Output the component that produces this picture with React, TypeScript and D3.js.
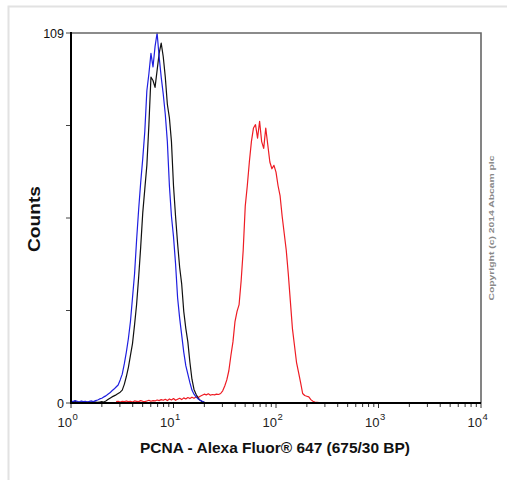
import React, { useEffect, useRef } from 'react';
import * as d3 from 'd3';

// histogram bins, in log10 units of fluorescence
const binStart = 0;
const binStep = 0.02;

// isotype control (black), starts at bin 0
const blackCounts = [
  0.3, 0.2, 0.4, 0.3, 0.2, 0.3, 0.4, 0.2, 0.3, 0.2, 0.3, 0.4, 0.3, 0.2, 0.3, 0.4, 0.3,
  0.6, 1.0, 1.4, 1.8, 2.1, 2.4, 2.8, 3.2, 3.8, 5.5, 7.8, 10.5, 14, 17.5, 23, 29, 37, 46,
  56, 63, 70, 82, 96, 95, 93, 98, 103, 106, 102, 96, 88, 84, 77, 64, 55, 47, 40, 35, 27,
  22, 18, 12, 7, 4, 2.6, 1.5, 0.8, 0.4, 0.2, 0
];

// unlabelled control (blue), starts at bin 0
const blueCounts = [
  0.6, 0.4, 0.7, 0.5, 0.3, 0.6, 0.4, 0.5, 0.3, 0.5, 0.6, 0.4, 0.7, 0.9, 1.2, 1.4, 1.8,
  2.1, 2.6, 3.0, 3.6, 4.1, 4.7, 5.3, 6.8, 8.5, 11.5, 15, 19, 24, 31, 38, 48, 57, 65, 72,
  80, 92, 97, 103, 99, 105, 109, 102, 96, 91, 85, 77, 64, 55, 49, 41, 31, 25, 20, 15, 11,
  8.5, 6, 3.8, 2.6, 1.8, 1.2, 0.8, 0.5, 0.2, 0
];

// PCNA stained (red), starts at bin 22
const redStartBin = 22;
const redCounts = [
  0.4, 0.5, 0.3, 0.5, 0.4, 0.6, 0.4, 0.5, 0.3, 0.6, 0.5, 0.4, 0.7, 0.5, 0.4, 0.6, 0.8,
  0.5, 0.7, 0.6, 0.9, 0.7, 1.0, 0.8, 1.1, 0.7, 1.2, 0.9, 1.3, 0.8, 1.1, 1.4, 1.0, 1.5,
  1.2, 1.6, 1.3, 1.7, 1.4, 1.8, 1.6, 2.0, 2.3, 2.6, 2.4, 2.7, 2.3, 2.5, 2.4, 2.6, 2.5,
  2.8, 3.6, 5.0, 6.8, 9.5, 14, 18, 24, 27, 29, 36, 45, 58, 64, 71, 77, 81, 82, 78, 83,
  77, 75, 81, 76, 71, 69, 70, 68, 64, 61, 55, 50, 45, 38, 30, 22, 17, 12, 9, 6, 2.8,
  2.2, 2.0, 1.8, 1.0, 0.5, 0.3, 0.2, 0.1, 0.1, 0
];

const yMax = 109;
const yTickLabels = ['0', '109'];
const xDecades = [0, 1, 2, 3, 4];
const xTitle = 'PCNA - Alexa Fluor® 647 (675/30 BP)';
const yTitle = 'Counts';
const copyright = 'Copyright (c) 2014 Abcam plc';

export default function App() {
  const ref = useRef<SVGSVGElement>(null);

  useEffect(() => {
    const width = 507;
    const height = 480;
    const plot = { left: 71, right: 481, top: 33, bottom: 403 };
    const font = 'Liberation Sans, Arial, sans-serif';
    const svg = d3.select(ref.current);
    svg.selectAll('*').remove();

    svg.append('rect')
      .attr('width', width).attr('height', height)
      .attr('fill', '#fff');

    // card outline
    svg.append('rect')
      .attr('x', 8.5).attr('y', 6.5)
      .attr('width', 520).attr('height', 500)
      .attr('fill', 'none')
      .attr('stroke', '#e2e2e2')
      .attr('stroke-width', 2);

    const x = d3.scaleLog().domain([1, 1e4]).range([plot.left, plot.right]);
    const y = d3.scaleLinear().domain([0, yMax]).range([plot.bottom, plot.top]);

    const drawSeries = (counts: number[], start: number, color: string) => {
      const gen = d3.line<number>()
        .x((d, i) => x(Math.pow(10, binStart + (start + i) * binStep)))
        .y(d => y(d));
      svg.append('path')
        .attr('d', gen(counts))
        .attr('fill', 'none')
        .attr('stroke', color)
        .attr('stroke-width', 1.2)
        .attr('stroke-linejoin', 'round');
    };

    drawSeries(redCounts, redStartBin, '#ee1c24');
    drawSeries(blackCounts, 0, '#111');
    drawSeries(blueCounts, 0, '#1f1fe0');

    // frame: top and right in gray
    svg.append('path')
      .attr('d', `M${plot.left},${plot.top}H${plot.right}V${plot.bottom}`)
      .attr('fill', 'none')
      .attr('stroke', '#666')
      .attr('stroke-width', 1.6);

    // y axis
    const yTicks = [0, yMax / 4, yMax / 2, (3 * yMax) / 4, yMax];
    svg.selectAll('.ytick')
      .data(yTicks)
      .enter()
      .append('line')
      .attr('x1', plot.left - 5).attr('x2', plot.left)
      .attr('y1', d => y(d)).attr('y2', d => y(d))
      .attr('stroke', '#444')
      .attr('stroke-width', 1);
    svg.selectAll('.ylabel')
      .data(yTickLabels)
      .enter()
      .append('text')
      .attr('x', plot.left - 7)
      .attr('y', d => y(+d) + 4.5)
      .attr('text-anchor', 'end')
      .style('font-family', font)
      .style('font-size', '12.5px')
      .style('fill', '#111')
      .text(d => d);

    // x ticks
    const minor: number[] = [];
    xDecades.slice(0, -1).forEach(p => {
      for (let k = 2; k <= 9; k++) minor.push(k * Math.pow(10, p));
    });
    svg.selectAll('.xminor')
      .data(minor)
      .enter()
      .append('line')
      .attr('x1', d => x(d)).attr('x2', d => x(d))
      .attr('y1', plot.bottom).attr('y2', plot.bottom + 4)
      .attr('stroke', '#333')
      .attr('stroke-width', 1);
    svg.selectAll('.xmajor')
      .data(xDecades)
      .enter()
      .append('line')
      .attr('x1', d => x(Math.pow(10, d))).attr('x2', d => x(Math.pow(10, d)))
      .attr('y1', plot.bottom).attr('y2', plot.bottom + 5)
      .attr('stroke', '#333')
      .attr('stroke-width', 1);

    const xl = svg.selectAll('.xlab')
      .data(xDecades)
      .enter()
      .append('g')
      .style('font-family', font)
      .style('fill', '#222');
    xl.append('text')
      .attr('x', d => x(Math.pow(10, d)) + 1)
      .attr('y', 427)
      .attr('text-anchor', 'end')
      .style('font-size', '13px')
      .text('10');
    xl.append('text')
      .attr('x', d => x(Math.pow(10, d)) + 1.5)
      .attr('y', 420)
      .style('font-size', '9.5px')
      .text(d => String(d));

    // axis lines
    svg.append('line')
      .attr('x1', plot.left).attr('x2', plot.left)
      .attr('y1', plot.top - 1).attr('y2', plot.bottom + 1)
      .attr('stroke', '#000').attr('stroke-width', 2);
    svg.append('line')
      .attr('x1', plot.left - 1).attr('x2', plot.right)
      .attr('y1', plot.bottom).attr('y2', plot.bottom)
      .attr('stroke', '#000').attr('stroke-width', 2);

    // titles
    svg.append('text')
      .attr('x', 275).attr('y', 453)
      .attr('text-anchor', 'middle')
      .attr('textLength', 270)
      .attr('lengthAdjust', 'spacingAndGlyphs')
      .style('font-family', font)
      .style('font-weight', 'bold')
      .style('font-size', '15px')
      .style('fill', '#111')
      .text(xTitle);

    svg.append('text')
      .attr('transform', 'translate(40,219) rotate(-90)')
      .attr('text-anchor', 'middle')
      .attr('textLength', 66)
      .attr('lengthAdjust', 'spacingAndGlyphs')
      .style('font-family', font)
      .style('font-weight', 'bold')
      .style('font-size', '17px')
      .style('fill', '#111')
      .text(yTitle);

    svg.append('text')
      .attr('transform', 'translate(494,228) rotate(-90)')
      .attr('text-anchor', 'middle')
      .attr('textLength', 145)
      .attr('lengthAdjust', 'spacingAndGlyphs')
      .style('font-family', font)
      .style('font-weight', 'bold')
      .style('font-size', '8px')
      .style('fill', '#888')
      .text(copyright);
  }, []);

  return (
    <div style={{ position: 'absolute', left: 0, top: 0 }}>
      <svg ref={ref} width={507} height={480} style={{ display: 'block' }} />
    </div>
  );
}
